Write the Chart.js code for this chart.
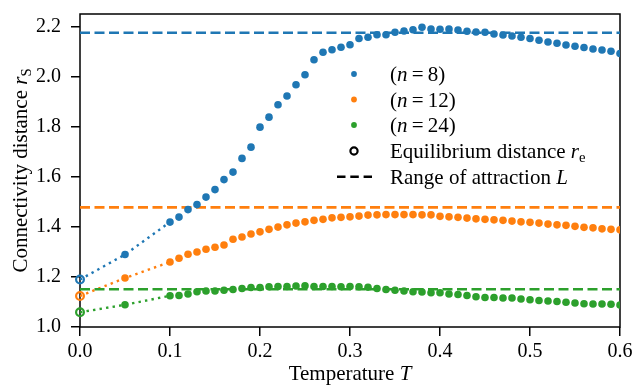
<!DOCTYPE html>
<html>
<head>
<meta charset="utf-8">
<script src="https://cdn.jsdelivr.net/npm/chart.js@4/dist/chart.umd.min.js"></script>
<style>
  html, body { margin: 0; padding: 0; background: #fff; }
  #wrap { width: 632px; height: 385px; }
</style>
</head>
<body>
<div id="wrap"><canvas id="c" width="632" height="385"></canvas></div>
<script>
// Temperatures of the simulated states
const temps = [0.05, 0.10, 0.11, 0.12, 0.13, 0.14, 0.15, 0.16, 0.17, 0.18, 0.19,
  0.20, 0.21, 0.22, 0.23, 0.24, 0.25, 0.26, 0.27, 0.28, 0.29,
  0.30, 0.31, 0.32, 0.33, 0.34, 0.35, 0.36, 0.37, 0.38, 0.39,
  0.40, 0.41, 0.42, 0.43, 0.44, 0.45, 0.46, 0.47, 0.48, 0.49,
  0.50, 0.51, 0.52, 0.53, 0.54, 0.55, 0.56, 0.57, 0.58, 0.59, 0.60];

// Connectivity distance r_S for each potential exponent n
const rsN8 = [1.29,
  1.42, 1.44, 1.47, 1.49, 1.52, 1.55, 1.59, 1.62, 1.675, 1.72,
  1.80, 1.84, 1.89, 1.925, 1.97, 2.01, 2.07, 2.10, 2.11, 2.12,
  2.13, 2.155, 2.16, 2.17, 2.17, 2.18, 2.185, 2.19, 2.20, 2.193,
  2.192, 2.193, 2.189, 2.184, 2.181, 2.18, 2.173, 2.169, 2.165, 2.16,
  2.155, 2.148, 2.141, 2.136, 2.129, 2.124, 2.119, 2.113, 2.109, 2.104,
  2.095];
const rsN12 = [1.196,
  1.26, 1.275, 1.291, 1.30, 1.311, 1.319, 1.328, 1.351, 1.36, 1.372,
  1.381, 1.391, 1.40, 1.409, 1.416, 1.421, 1.427, 1.431, 1.437, 1.439,
  1.441, 1.444, 1.448, 1.449, 1.45, 1.45, 1.45, 1.45, 1.449, 1.449,
  1.443, 1.441, 1.439, 1.436, 1.433, 1.431, 1.429, 1.427, 1.424, 1.421,
  1.419, 1.416, 1.412, 1.409, 1.407, 1.403, 1.399, 1.397, 1.393, 1.391,
  1.389];
const rsN24 = [1.089,
  1.125, 1.126, 1.132, 1.141, 1.144, 1.144, 1.147, 1.15, 1.154, 1.158,
  1.158, 1.161, 1.162, 1.162, 1.164, 1.165, 1.162, 1.162, 1.162, 1.161,
  1.162, 1.161, 1.159, 1.154, 1.15, 1.147, 1.144, 1.141, 1.14, 1.137,
  1.137, 1.132, 1.13, 1.126, 1.121, 1.118, 1.118, 1.116, 1.116, 1.112,
  1.109, 1.106, 1.104, 1.102, 1.099, 1.096, 1.093, 1.092, 1.092, 1.091,
  1.088];

// Equilibrium distance r_e (at T = 0) and range of attraction L, ordered n = 8, 12, 24
const equilibrium = [1.19, 1.124, 1.059];
const attraction = [2.178, 1.479, 1.151];

const seriesN = ['8', '12', '24'];
const xTicks = [0.0, 0.1, 0.2, 0.3, 0.4, 0.5, 0.6];
const yTicks = [1.0, 1.2, 1.4, 1.6, 1.8, 2.0, 2.2];

const colors = ['#1f77b4', '#ff7f0e', '#2ca02c'];
const SERIF = '"Liberation Serif", "Times New Roman", serif';
const allSeries = [rsN8, rsN12, rsN24];

const datasets = [];
allSeries.forEach((vals, i) => {
  // measured points
  datasets.push({
    type: 'scatter',
    data: temps.map((t, k) => ({ x: t, y: vals[k] })),
    backgroundColor: colors[i],
    borderWidth: 0,
    pointRadius: 3.8,
    order: 1
  });
  // dotted link from r_e to the first measured points
  datasets.push({
    type: 'line',
    data: [{ x: 0, y: equilibrium[i] }, { x: temps[0], y: vals[0] }, { x: temps[1], y: vals[1] }],
    borderColor: colors[i],
    borderWidth: 2.4,
    borderDash: [2.4, 4.2],
    pointRadius: 0,
    fill: false,
    order: 3
  });
  // range of attraction
  datasets.push({
    type: 'line',
    data: [{ x: xTicks[0], y: attraction[i] }, { x: xTicks[xTicks.length - 1], y: attraction[i] }],
    borderColor: colors[i],
    borderWidth: 2.6,
    borderDash: [10, 4.5],
    pointRadius: 0,
    fill: false,
    order: 2
  });
  // equilibrium distance (open circle)
  datasets.push({
    type: 'scatter',
    data: [{ x: 0, y: equilibrium[i] }],
    backgroundColor: 'rgba(255,255,255,0)',
    borderColor: colors[i],
    borderWidth: 2.2,
    pointRadius: 3.9,
    clip: false,
    order: 0
  });
});

// draw a run of text pieces with italic / subscript parts
function richWidth(ctx, parts, fs) {
  let w = 0;
  parts.forEach(p => {
    const size = p.sub ? fs * 0.7 : fs;
    ctx.font = (p.italic ? 'italic ' : '') + size + 'px ' + SERIF;
    w += ctx.measureText(p.t).width;
  });
  return w;
}
function drawRich(ctx, parts, x, baseline, fs, align) {
  let w = richWidth(ctx, parts, fs);
  let cx = align === 'center' ? x - w / 2 : x;
  ctx.textAlign = 'left';
  ctx.textBaseline = 'alphabetic';
  parts.forEach(p => {
    const size = p.sub ? fs * 0.7 : fs;
    ctx.font = (p.italic ? 'italic ' : '') + size + 'px ' + SERIF;
    ctx.fillText(p.t, cx, baseline + (p.sub ? fs * 0.2 : 0));
    cx += ctx.measureText(p.t).width;
  });
}

const framePlugin = {
  id: 'frame',
  beforeDatasetsDraw(chart) {
    const { ctx, chartArea: a } = chart;
    ctx.save();
    ctx.strokeStyle = '#000';
    ctx.lineWidth = 1.5;
    ctx.strokeRect(a.left, a.top, a.right - a.left, a.bottom - a.top);
    ctx.restore();
  }
};

const textPlugin = {
  id: 'texts',
  afterDraw(chart) {
    const { ctx, chartArea: a } = chart;
    const fs = 21;
    ctx.save();
    ctx.fillStyle = '#000';
    // x-axis title
    drawRich(ctx, [{ t: 'Temperature ' }, { t: 'T', italic: true }], (a.left + a.right) / 2, 380, fs, 'center');
    // y-axis title
    ctx.save();
    ctx.translate(27, (a.top + a.bottom) / 2);
    ctx.rotate(-Math.PI / 2);
    drawRich(ctx, [{ t: 'Connectivity distance ' }, { t: 'r', italic: true }, { t: 'S', sub: true }], 0, 0, fs, 'center');
    ctx.restore();

    // legend
    const lx = 390, mx = 354;
    const rows = [74, 99.5, 125, 151, 176.7];
    const lfs = 21;
    for (let i = 0; i < 3; i++) {
      ctx.beginPath();
      ctx.fillStyle = colors[i];
      ctx.arc(mx, rows[i], 2.9, 0, Math.PI * 2);
      ctx.fill();
      ctx.fillStyle = '#000';
      drawRich(ctx, [{ t: '(' }, { t: 'n', italic: true }, { t: '\u2009=\u2009' + seriesN[i] + ')' }], lx, rows[i] + 7, lfs, 'left');
    }
    ctx.beginPath();
    ctx.strokeStyle = '#000';
    ctx.lineWidth = 2.2;
    ctx.arc(mx, rows[3], 3.6, 0, Math.PI * 2);
    ctx.stroke();
    drawRich(ctx, [{ t: 'Equilibrium distance ' }, { t: 'r', italic: true }, { t: 'e', sub: true }], lx, rows[3] + 7, lfs, 'left');
    ctx.beginPath();
    ctx.lineWidth = 2.6;
    ctx.setLineDash([8.5, 4.8]);
    ctx.moveTo(337, rows[4]);
    ctx.lineTo(372, rows[4]);
    ctx.stroke();
    ctx.setLineDash([]);
    drawRich(ctx, [{ t: 'Range of attraction ' }, { t: 'L', italic: true }], lx, rows[4] + 7, lfs, 'left');
    ctx.restore();
  }
};

function fixBox(s) {
  s.paddingTop = 0; s.paddingBottom = 0; s.paddingLeft = 0; s.paddingRight = 0;
}

new Chart(document.getElementById('c'), {
  type: 'scatter',
  data: { datasets },
  options: {
    responsive: false,
    animation: false,
    devicePixelRatio: 1,
    layout: { padding: { left: 0, right: 12, top: 14, bottom: 0 } },
    plugins: { legend: { display: false }, tooltip: { enabled: false } },
    scales: {
      x: {
        type: 'linear',
        min: xTicks[0],
        max: xTicks[xTicks.length - 1],
        afterBuildTicks: s => { s.ticks = xTicks.map(v => ({ value: v })); },
        afterFit: s => { s.height = 58; fixBox(s); },
        grid: { display: true, drawOnChartArea: false, drawTicks: true, tickLength: 9, color: '#000', lineWidth: 1.5 },
        border: { display: false },
        ticks: {
          padding: 4,
          color: '#000',
          font: { family: SERIF, size: 20 },
          callback: v => v.toFixed(1),
          maxRotation: 0
        }
      },
      y: {
        type: 'linear',
        min: yTicks[0],
        max: 2.253,
        afterBuildTicks: s => { s.ticks = yTicks.map(v => ({ value: v })); },
        afterFit: s => { s.width = 80; fixBox(s); },
        grid: { display: true, drawOnChartArea: false, drawTicks: true, tickLength: 9, color: '#000', lineWidth: 1.5 },
        border: { display: false },
        ticks: {
          padding: 10,
          color: '#000',
          font: { family: SERIF, size: 20 },
          callback: v => v.toFixed(1)
        }
      }
    }
  },
  plugins: [framePlugin, textPlugin]
});
</script>
</body>
</html>
